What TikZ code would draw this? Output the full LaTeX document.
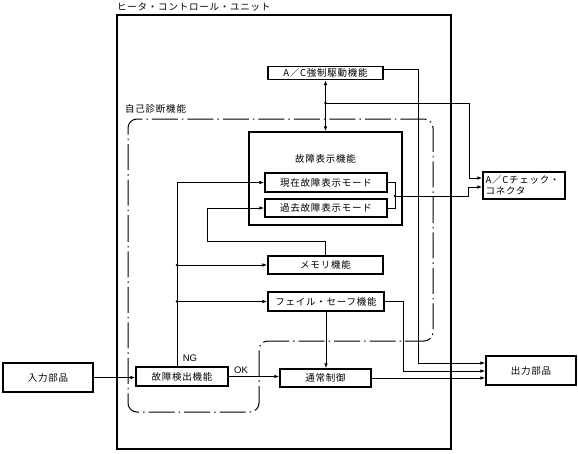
\documentclass[tikz,border=0pt]{standalone}
\usepackage{fontspec}
\setmainfont{Liberation Sans}
\newfontfamily\jp{Noto Sans CJK JP}[LetterSpace=8]
\usetikzlibrary{arrows.meta}
\begin{document}
\begin{tikzpicture}[x=1pt,y=-1pt,
  box/.style={draw,line width=1.1pt,inner sep=0pt,font=\jp\fontsize{9.5}{11}\selectfont},
  arr/.style={line width=1pt,-{Latex[length=5pt,width=3.5pt]}},
  dbl/.style={line width=1pt,{Latex[length=5pt,width=3.5pt]}-{Latex[length=5pt,width=3.5pt]}},
  ln/.style={line width=1pt},
  jdot/.style={circle,fill,inner sep=0pt,minimum size=2.8pt},
  lbl/.style={font=\jp\fontsize{9.5}{11}\selectfont,inner sep=0pt},
  latin/.style={font=\fontsize{9.5}{11}\selectfont,inner sep=0pt},
  region/.style={line width=1pt,dash pattern=on 26pt off 4pt on 1.5pt off 4pt,rounded corners=9pt}]
\useasboundingbox (0,0) rectangle (578,453);

% main unit
\node[draw,line width=1.2pt,minimum width=334pt,minimum height=434pt] (ecu) at (284,232) {};
\node[lbl,anchor=west] (title) at (117,7) {ヒータ・コントロール・ユニット};

% self-diagnosis region
\draw[region] (128,250) -- (128,119) -- (433,119) -- (433,341) -- (259,341) -- (259,412) -- (128,412) -- cycle;
\node[lbl,anchor=west] (selfdiag) at (125,109) {自己診断機能};

% boxes
\node[box,minimum width=115pt,minimum height=13pt] (acf) at (325.5,73) {A／C強制駆動機能};
\node[box,minimum width=153pt,minimum height=93pt] (fdisp) at (325.5,178.5) {};
\node[lbl] (fdlabel) at (325.5,159) {故障表示機能};
\node[box,minimum width=122pt,minimum height=19pt] (cur) at (326,182.5) {現在故障表示モード};
\node[box,minimum width=122pt,minimum height=18pt] (past) at (326,208) {過去故障表示モード};
\node[box,minimum width=115pt,minimum height=18pt] (mem) at (325.5,265) {メモリ機能};
\node[box,minimum width=116pt,minimum height=19pt] (fs) at (326,301.5) {フェイル・セーフ機能};
\node[box,minimum width=92pt,minimum height=19pt] (det) at (182,376.5) {故障検出機能};
\node[box,minimum width=91pt,minimum height=18pt] (norm) at (325.5,378) {通常制御};
\node[box,minimum width=90pt,minimum height=29pt] (in) at (48,377.5) {入力部品};
\node[box,minimum width=90pt,minimum height=29pt] (out) at (531,370.5) {出力部品};
\node[box,minimum width=82pt,minimum height=27pt,text width=77pt,inner xsep=2.5pt,align=left] (acc) at (524,185.5) {A／Cチェック・\\コネクタ};

% labels
\node[latin] (ng) at (190,358) {NG};
\node[latin] (ok) at (241,370) {OK};

% connectors
\coordinate (a1) at (418,69);
\coordinate (a2) at (418,363);
\draw[arr] (acf.east |- a1) -- (a1) -- (a2) -- (a2 -| out.west);

\draw[dbl] (acf.south) -- (fdisp.north);
\coordinate (j1) at (325.5,103);
\coordinate (b1) at (469,103);
\node[jdot] (j1d) at (j1) {};
\draw[arr] (j1) -- (b1) |- ([yshift=7.5pt]acc.west);

\coordinate (k1) at (395,196);
\coordinate (b3) at (468,196);
\draw[ln] (cur.east) -- (cur.east -| k1) -- (past.east -| k1) -- (past.east);
\node[jdot] (k1d) at (k1) {};
\draw[arr] (k1) -- (b3) |- ([yshift=-1.5pt]acc.west);

\coordinate (n0) at ([xshift=-5pt]det.north);
\draw[arr] (n0) |- (cur.west);
\draw[arr] (n0 |- mem.west) -- (mem.west);
\draw[arr] (n0 |- fs.west) -- (fs.west);
\node[jdot] (n2d) at (n0 |- mem.west) {};
\node[jdot] (n3d) at (n0 |- fs.west) {};

\coordinate (m1) at (207,241);
\draw[arr] (mem.north) -- (mem.north |- m1) -- (m1) |- (past.west);

\draw[arr] (fs.south) -- (fs.south |- norm.north);

\coordinate (f1) at (403,371);
\draw[arr] (fs.east) -| (f1) -- (f1 -| out.west);

\draw[arr] (norm.east) -- (norm.east -| out.west);
\draw[arr] (in.east) -- (in.east -| det.west);
\draw[arr] (det.east) -- (det.east -| norm.west);
\end{tikzpicture}
\end{document}
